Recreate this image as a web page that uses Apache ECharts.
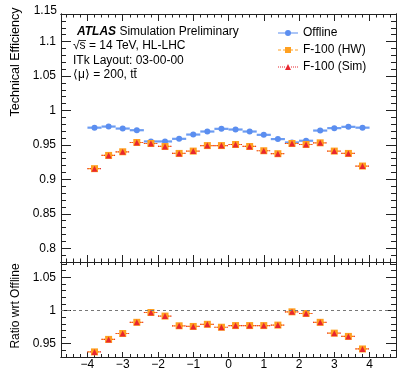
<!DOCTYPE html>
<html>
<head>
<meta charset="utf-8">
<script src="https://cdn.jsdelivr.net/npm/echarts@6/dist/echarts.min.js"></script>
<style>
  html, body { margin: 0; padding: 0; background: #fff; }
  #chart { width: 398px; height: 368px; }
</style>
</head>
<body>
<div id="chart"></div>
<script>
// bin centres, 0.4 wide bins from -4 to 4
const etaBins = [-3.8, -3.4, -3.0, -2.6, -2.2, -1.8, -1.4, -1.0, -0.6, -0.2,
                 0.2, 0.6, 1.0, 1.4, 1.8, 2.2, 2.6, 3.0, 3.4, 3.8]

// technical efficiency (top panel)
const offlineEff = [0.975, 0.9766, 0.9737, 0.9713, 0.955, 0.955, 0.9588, 0.965, 0.9694, 0.9733,
                    0.9723, 0.9694, 0.9646, 0.9584, 0.9535, 0.956, 0.9708, 0.9743, 0.9762, 0.975]
const hwEff = [0.9155, 0.9347, 0.940, 0.9535, 0.952, 0.9477, 0.9376, 0.941, 0.949, 0.949,
               0.9506, 0.9477, 0.9415, 0.9372, 0.952, 0.9506, 0.953, 0.941, 0.9376, 0.9193]
const simEff = [0.9155, 0.9347, 0.940, 0.9535, 0.952, 0.9477, 0.9376, 0.941, 0.949, 0.949,
                0.9506, 0.9477, 0.9415, 0.9372, 0.952, 0.9506, 0.953, 0.941, 0.9376, 0.9193]

// ratio wrt offline (bottom panel)
const hwRatio = [0.9377, 0.9565, 0.9654, 0.9822, 0.997, 0.9916, 0.977, 0.976, 0.9792, 0.9748,
                 0.9773, 0.9773, 0.9773, 0.978, 0.998, 0.9955, 0.9822, 0.9659, 0.961, 0.9421]
const simRatio = [0.9377, 0.9565, 0.9654, 0.9822, 0.997, 0.9916, 0.977, 0.976, 0.9792, 0.9748,
                  0.9773, 0.9773, 0.9773, 0.978, 0.998, 0.9955, 0.9822, 0.9659, 0.961, 0.9421]

// axis ticks
const xMajorTicks = [-4, -3, -2, -1, 0, 1, 2, 3, 4]
const effMajorTicks = [0.8, 0.85, 0.9, 0.95, 1, 1.05, 1.1]
const ratioMajorTicks = [0.95, 1, 1.05]

const X_RANGE = [-4.75, 4.75]
const EFF_RANGE = [0.78, 1.14]
const RATIO_RANGE = [0.93, 1.073]
const BIN_HALF = 0.2

const FONT = '"Liberation Sans", Arial, sans-serif'
const FRAME = '#222'
const C_OFF = '#5b8ef0'
const C_HW = '#ffa020'
const C_SIM = '#e8262f'

// minor ticks every `step` inside a range
const minorTicks = (lo, hi, step) => {
  const out = []
  for (let v = Math.ceil(lo / step); v * step <= hi + 1e-9; v++) {
    out.push(Math.round(v * step * 1000) / 1000)
  }
  return out
}

const fmtMinus = v => (v < 0 ? '\u2212' + Math.abs(v) : String(v))

/**
 * one axis of the frame (ROOT style, ticks inside)
 */
const axis = (gridIndex, position, range, ticks, tickLen, label) => ({
  type: 'value',
  gridIndex,
  position,
  min: range[0],
  max: range[1],
  axisLine: { show: true, onZero: false, lineStyle: { color: FRAME, width: 1 } },
  axisTick: { show: true, inside: true, length: tickLen, customValues: ticks, lineStyle: { color: FRAME, width: 1 } },
  axisLabel: label
    ? Object.assign({ show: true, customValues: ticks, color: '#000', fontFamily: FONT, fontSize: 12 }, label)
    : { show: false },
  splitLine: { show: false }
})

const xMinor = minorTicks(X_RANGE[0], X_RANGE[1], 0.2)
const effMinor = minorTicks(EFF_RANGE[0], EFF_RANGE[1], 0.01)
const ratioMinor = minorTicks(RATIO_RANGE[0], RATIO_RANGE[1], 0.01)

const xAxes = [
  axis(0, 'bottom', X_RANGE, xMajorTicks, 7),
  axis(0, 'bottom', X_RANGE, xMinor, 3.5),
  axis(0, 'top', X_RANGE, xMajorTicks, 7),
  axis(0, 'top', X_RANGE, xMinor, 3.5),
  axis(1, 'bottom', X_RANGE, xMajorTicks, 5, { margin: 2, formatter: fmtMinus }),
  axis(1, 'bottom', X_RANGE, xMinor, 3),
  axis(1, 'top', X_RANGE, xMajorTicks, 5),
  axis(1, 'top', X_RANGE, xMinor, 3)
]

const yAxes = [
  axis(0, 'left', EFF_RANGE, effMajorTicks, 10, { margin: 5 }),
  axis(0, 'left', EFF_RANGE, effMinor, 5),
  axis(0, 'right', EFF_RANGE, effMajorTicks, 10),
  axis(0, 'right', EFF_RANGE, effMinor, 5),
  axis(1, 'left', RATIO_RANGE, ratioMajorTicks, 10, { margin: 5 }),
  axis(1, 'left', RATIO_RANGE, ratioMinor, 5),
  axis(1, 'right', RATIO_RANGE, ratioMajorTicks, 10),
  axis(1, 'right', RATIO_RANGE, ratioMinor, 5)
]

const pairs = ys => etaBins.map((x, i) => [x, ys[i]])

/**
 * horizontal bin-width error bars
 */
const errorBars = (name, ys, axisIdx, color, width, dash) => ({
  type: 'custom',
  name,
  xAxisIndex: axisIdx,
  yAxisIndex: axisIdx,
  silent: true,
  z: 2,
  data: pairs(ys),
  renderItem: (params, api) => {
    const x = api.value(0)
    const y = api.value(1)
    const a = api.coord([x - BIN_HALF, y])
    const b = api.coord([x + BIN_HALF, y])
    return {
      type: 'line',
      shape: { x1: a[0], y1: a[1], x2: b[0], y2: b[1] },
      style: { stroke: color, lineWidth: width, lineDash: dash }
    }
  }
})

const markers = (name, ys, axisIdx, symbol, size, color) => ({
  type: 'scatter',
  name,
  xAxisIndex: axisIdx,
  yAxisIndex: axisIdx,
  symbol,
  symbolSize: size,
  itemStyle: { color, opacity: 1 },
  z: 3,
  data: pairs(ys)
})

// legend icons: line style + marker, bbox 20 x 6
const ICON_OFF = 'path://M0 2.5H20V3.5H0Z M13 3A3 3 0 1 1 7 3A3 3 0 1 1 13 3Z'
const ICON_HW = 'path://M0 2.5h3v1h-3Z M5 2.5h3v1h-3Z M12 2.5h3v1h-3Z M17 2.5h3v1h-3Z M7 0H13V6H7Z'
const ICON_SIM = 'path://M0 2.5h1v1h-1Z M2 2.5h1v1h-1Z M4 2.5h1v1h-1Z M6 2.5h1v1h-1Z M13 2.5h1v1h-1Z M15 2.5h1v1h-1Z M17 2.5h1v1h-1Z M19 2.5h1v1h-1Z M10 0L13 6H7Z'

const hwRatioMarkers = markers('F-100 (HW) ratio', hwRatio, 4, 'rect', 7, C_HW)
hwRatioMarkers.markLine = {
  silent: true,
  symbol: 'none',
  label: { show: false },
  lineStyle: { color: '#777', type: [3, 3], width: 1 },
  data: [{ yAxis: 1 }]
}

const option = {
  animation: false,
  backgroundColor: '#fff',
  grid: [
    { left: 61, right: 2, top: 14, height: 248, outerBoundsMode: 'none' },
    { left: 61, right: 2, top: 262, height: 95, outerBoundsMode: 'none' }
  ],
  xAxis: xAxes,
  yAxis: yAxes,
  legend: {
    orient: 'vertical',
    left: 273,
    top: 22,
    itemWidth: 20,
    itemHeight: 6,
    itemGap: 5,
    textStyle: { fontFamily: FONT, fontSize: 12, color: '#000', lineHeight: 12 },
    data: [
      { name: 'Offline', icon: ICON_OFF },
      { name: 'F-100 (HW)', icon: ICON_HW },
      { name: 'F-100 (Sim)', icon: ICON_SIM }
    ]
  },
  graphic: [
    { type: 'text', x: 57, y: 11, style: { text: '1.15', font: '12px ' + FONT, fill: '#000', align: 'right', verticalAlign: 'middle' } },
    {
      type: 'text', x: 77, y: 31.5,
      style: {
        text: '{a|ATLAS} {b|Simulation Preliminary}',
        verticalAlign: 'middle',
        rich: {
          a: { fontFamily: FONT, fontSize: 12, fontWeight: 'bold', fontStyle: 'italic', fill: '#000' },
          b: { fontFamily: FONT, fontSize: 12, fill: '#000' }
        }
      }
    },
    { type: 'text', x: 73, y: 46, style: { text: '\u221As\u0305 = 14 TeV, HL-LHC', font: '12px ' + FONT, fill: '#000', verticalAlign: 'middle' } },
    { type: 'text', x: 73, y: 60.5, style: { text: 'ITk Layout: 03-00-00', font: '12px ' + FONT, fill: '#000', verticalAlign: 'middle' } },
    { type: 'text', x: 73, y: 75, style: { text: '\u27E8\u03BC\u27E9 = 200, tt\u0304', font: '12px ' + FONT, fill: '#000', verticalAlign: 'middle' } },
    { type: 'text', x: 16, y: 62, rotation: Math.PI / 2, style: { text: 'Technical Efficiency', font: '12.5px ' + FONT, fill: '#000', align: 'center', verticalAlign: 'middle' } },
    { type: 'text', x: 16, y: 306, rotation: Math.PI / 2, style: { text: 'Ratio wrt Offline', font: '12px ' + FONT, fill: '#000', align: 'center', verticalAlign: 'middle' } }
  ],
  series: [
    errorBars('Offline err', offlineEff, 0, '#6c9cf2', 2.2, null),
    errorBars('F-100 (HW) err', hwEff, 0, C_HW, 1.2, [3, 2]),
    errorBars('F-100 (Sim) err', simEff, 0, C_SIM, 1.2, [1, 1.5]),
    markers('Offline', offlineEff, 0, 'circle', 6, C_OFF),
    markers('F-100 (HW)', hwEff, 0, 'rect', 7, C_HW),
    markers('F-100 (Sim)', simEff, 0, 'triangle', 6, C_SIM),
    errorBars('F-100 (HW) ratio err', hwRatio, 4, C_HW, 1.2, [3, 2]),
    errorBars('F-100 (Sim) ratio err', simRatio, 4, C_SIM, 1.2, [1, 1.5]),
    hwRatioMarkers,
    markers('F-100 (Sim) ratio', simRatio, 4, 'triangle', 6, C_SIM)
  ]
}

const chart = echarts.init(document.getElementById('chart'))
chart.setOption(option)
</script>
</body>
</html>
